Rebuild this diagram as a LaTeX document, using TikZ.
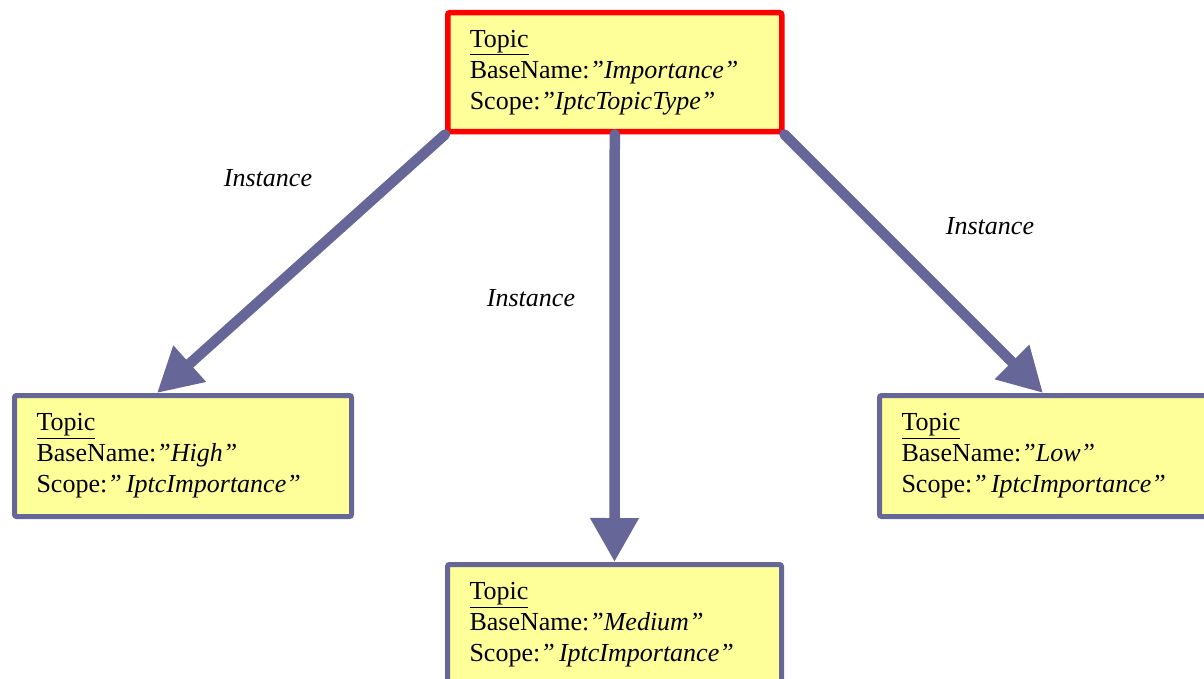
\documentclass[tikz,border=0pt]{standalone}
\usepackage{fontspec}
\setmainfont{Liberation Serif}
\usetikzlibrary{arrows.meta}
\definecolor{boxfill}{RGB}{255,255,153}
\definecolor{edgeblue}{RGB}{102,102,153}
\definecolor{topred}{RGB}{255,0,0}
\tikzset{
  topicbox/.style={draw=edgeblue, line width=5pt, fill=boxfill, rounded corners=2pt,
    anchor=north west, inner xsep=22pt, inner ysep=0pt, align=left,
    font=\fontsize{26}{31}\selectfont, minimum height=121pt},
  rootbox/.style={topicbox, draw=topred, line width=5.5pt},
  inst/.style={draw=edgeblue, line width=10.5pt, line cap=round,
    -{Triangle[width=46pt,length=44pt]}},
  instlabel/.style={font=\fontsize{26}{31}\selectfont\itshape, inner sep=0pt}
}
\begin{document}
\begin{tikzpicture}[x=1pt,y=-1pt]
\useasboundingbox (0,0) rectangle (1204,679);
\clip (0,0) rectangle (1204,679);
\node[rootbox, text width=290pt, minimum height=119pt] (top) at (445,10)
  {\underline{Topic}\\BaseName:\textit{”Importance”}\\Scope:\textit{”IptcTopicType”}};
\node[topicbox, text width=293pt] (left) at (12,393)
  {\underline{Topic}\\BaseName:\textit{”High”}\\Scope:\textit{”\,IptcImportance”}};
\node[topicbox, text width=290pt] (mid) at (445,562)
  {\underline{Topic}\\BaseName:\textit{”Medium”}\\Scope:\textit{”\,IptcImportance”}};
\node[topicbox, text width=293pt] (right) at (877,393)
  {\underline{Topic}\\BaseName:\textit{”Low”}\\Scope:\textit{”\,IptcImportance”}};
\draw[inst] (top.south west) -- ([xshift=145pt]left.north west);
\draw[inst] (top.south) -- (mid.north);
\draw[inst] (top.south east) -- ([xshift=166pt]right.north west);
\node[instlabel] (l1) at (268,178) {Instance};
\node[instlabel] (l2) at (531,298) {Instance};
\node[instlabel] (l3) at (990,226) {Instance};
\end{tikzpicture}
\end{document}
